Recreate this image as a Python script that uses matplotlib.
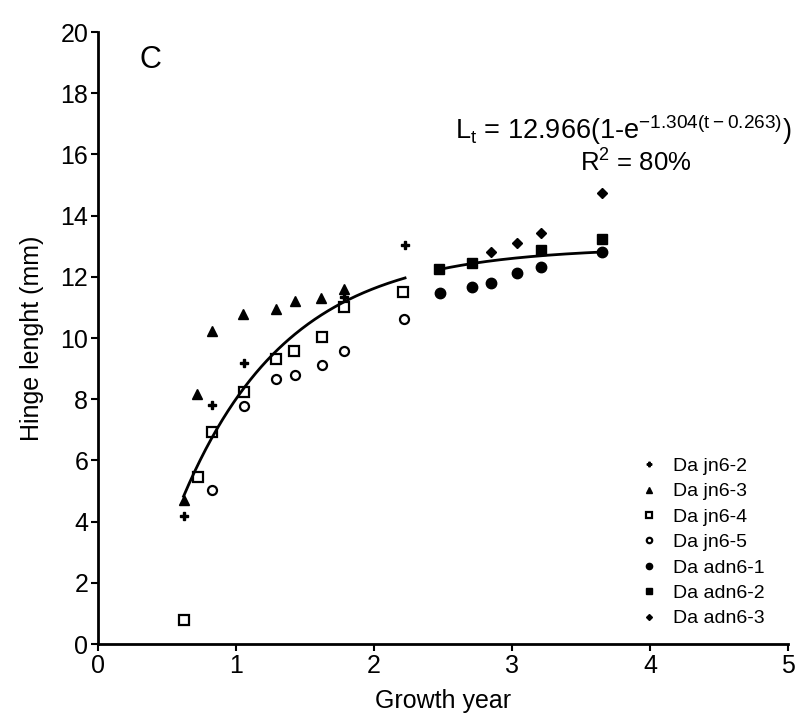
import numpy as np
import matplotlib
matplotlib.use("Agg")
import matplotlib.pyplot as plt

plt.rcParams['font.family'] = ['Liberation Sans', 'DejaVu Sans']

# ---- data ----
jn62_x = [0.625, 0.828, 1.058, 1.78, 2.225]
jn62_y = [4.19, 7.81, 9.17, 11.35, 13.04]

jn63_x = [0.623, 0.715, 0.828, 1.053, 1.29, 1.428, 1.616, 1.78]
jn63_y = [4.71, 8.16, 10.23, 10.77, 10.94, 11.21, 11.30, 11.60]

jn64_x = [0.623, 0.727, 0.828, 1.058, 1.29, 1.42, 1.625, 1.78, 2.21]
jn64_y = [0.80, 5.45, 6.94, 8.25, 9.31, 9.59, 10.04, 11.0, 11.51]

jn65_x = [0.828, 1.058, 1.29, 1.43, 1.62, 1.78, 2.22]
jn65_y = [5.03, 7.79, 8.65, 8.79, 9.12, 9.59, 10.62]

adn61_x = [2.478, 2.707, 2.848, 3.034, 3.208, 3.65]
adn61_y = [11.46, 11.68, 11.79, 12.14, 12.33, 12.82]

adn62_x = [2.473, 2.707, 3.208, 3.65]
adn62_y = [12.24, 12.44, 12.88, 13.22]

adn63_x = [2.848, 3.034, 3.208, 3.65]
adn63_y = [12.82, 13.12, 13.42, 14.75]

labels = ["Da jn6-2", "Da jn6-3", "Da jn6-4", "Da jn6-5",
          "Da adn6-1", "Da adn6-2", "Da adn6-3"]

# von Bertalanffy model stated on the chart
Linf, K, t0 = 12.966, 1.304, 0.263
seg1 = (0.62, 2.225)
seg2 = (2.473, 3.65)

fig = plt.figure(figsize=(8.01, 7.16), dpi=100)
ax = fig.add_axes([98/801, 1-644/716, 690/801, 612/716])

ms = 6.5
ax.plot(jn62_x, jn62_y, ls='none', marker='P', ms=5.5, color='black', label=labels[0])
ax.plot(jn63_x, jn63_y, ls='none', marker='^', ms=ms, color='black', label=labels[1])
ax.plot(jn64_x, jn64_y, ls='none', marker='s', ms=ms, mfc='white', mec='black', mew=1.6, label=labels[2])
ax.plot(jn65_x, jn65_y, ls='none', marker='o', ms=ms, mfc='white', mec='black', mew=1.6, label=labels[3])
ax.plot(adn61_x, adn61_y, ls='none', marker='o', ms=7.5, color='black', label=labels[4])
ax.plot(adn62_x, adn62_y, ls='none', marker='s', ms=7.5, color='black', label=labels[5])
ax.plot(adn63_x, adn63_y, ls='none', marker='D', ms=5, color='black', label=labels[6])

for a, b in (seg1, seg2):
    t = np.linspace(a, b, 200)
    ax.plot(t, Linf*(1-np.exp(-K*(t-t0))), color='black', lw=2)

ax.set_xlim(0, 5)
ax.set_ylim(0, 20)
ax.set_xticks(range(0, 6))
ax.set_yticks(range(0, 21, 2))
for s in ('top', 'right'):
    ax.spines[s].set_visible(False)
for s in ('left', 'bottom'):
    ax.spines[s].set_linewidth(2)
ax.tick_params(axis='both', labelsize=18, width=1.5, length=5, pad=2)
ax.set_xlabel("Growth year", fontsize=18, labelpad=8)
ax.set_ylabel("Hinge lenght (mm)", fontsize=18, labelpad=12)

ax.text(0.06, 0.955, "C", transform=ax.transAxes, fontsize=22, va='center')
ax.text(2.59, 16.8, r"L$_\mathregular{t}$ = 12.966(1-e$^{\mathregular{-1.304(t-0.263)}}$)",
        fontsize=19.5, ha='left', va='center', clip_on=False)
ax.text(3.49, 15.75, r"R$^\mathregular{2}$ = 80%", fontsize=18.5, ha='left', va='center')

leg = ax.legend(loc='lower left', bbox_to_anchor=(0.765, 0.005), frameon=False,
                fontsize=14, markerscale=0.6, handlelength=1.0, handletextpad=0.7,
                labelspacing=0.4, borderpad=0.2)

fig.savefig("out.png", dpi=100)
